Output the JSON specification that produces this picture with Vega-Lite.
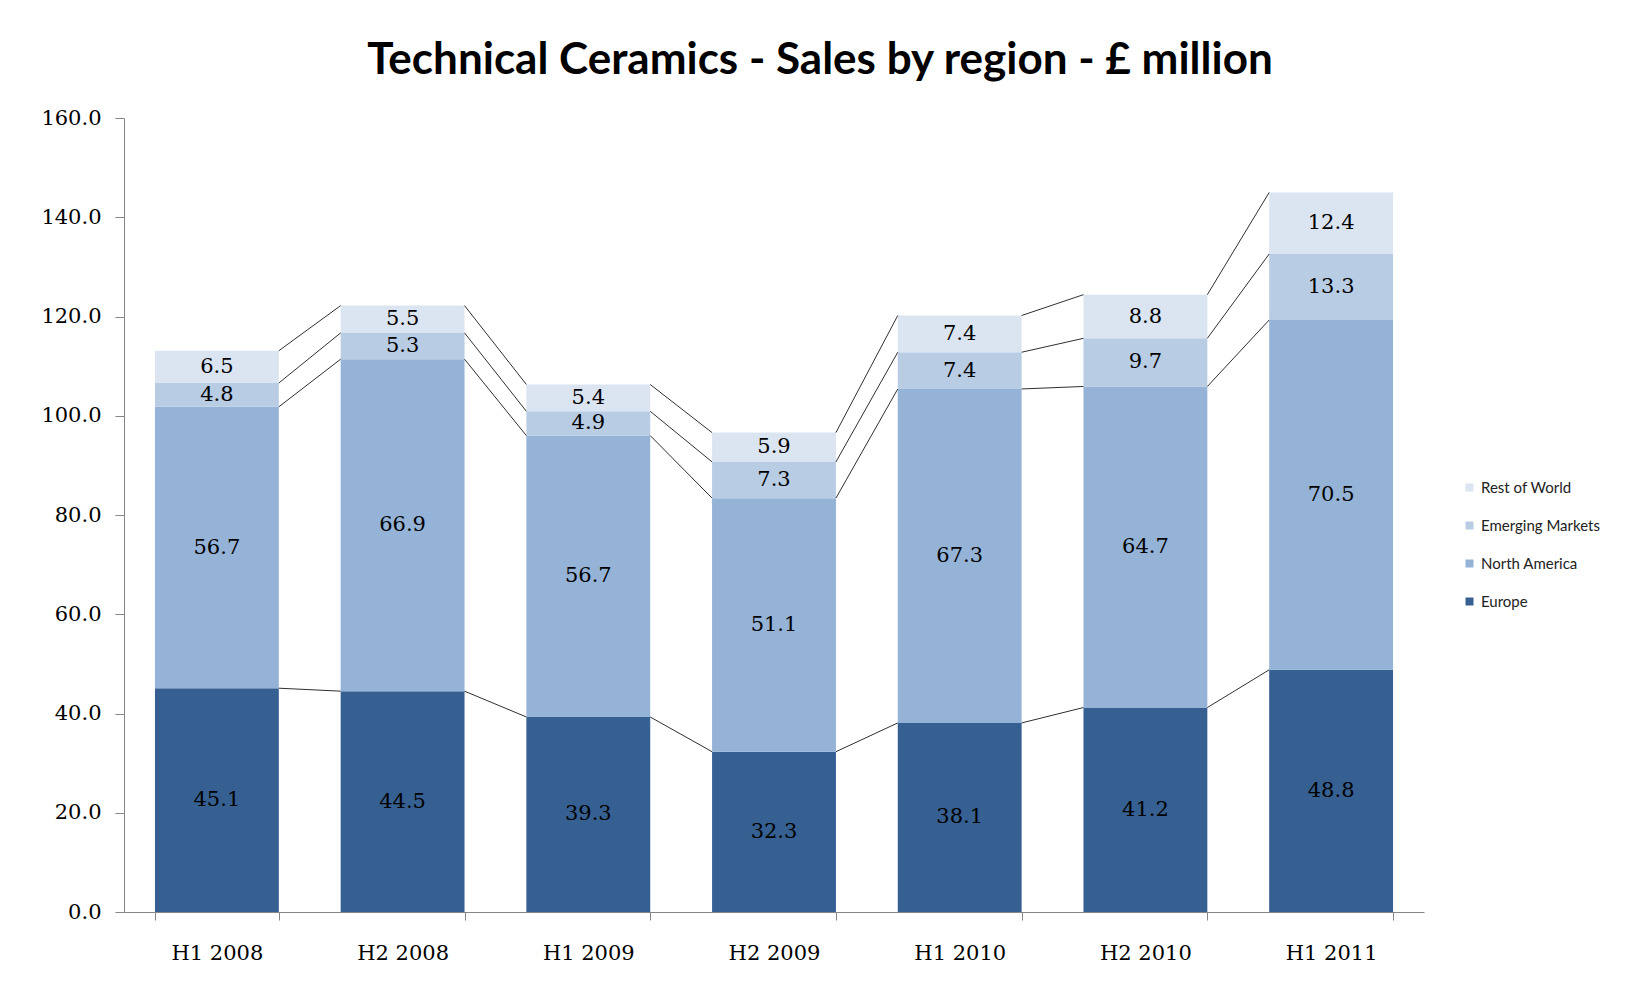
{
  "$schema": "https://vega.github.io/schema/vega-lite/v6.json",
  "autosize": {"type": "none"},
  "width": 1300,
  "height": 794,
  "padding": {"left": 124, "top": 118, "right": 208, "bottom": 83},
  "background": "white",
  "title": {
    "text": "Technical Ceramics - Sales by region - £ million",
    "font": "Lato",
    "fontSize": 44,
    "fontWeight": "bold",
    "color": "black",
    "anchor": "middle",
    "dx": 46,
    "offset": 24
  },
  "config": {
    "view": {"stroke": null},
    "axis": {
      "domainColor": "#868686",
      "tickColor": "#868686",
      "labelFont": "DejaVu Serif",
      "labelFontSize": 21,
      "labelColor": "black",
      "grid": false,
      "title": null
    }
  },
  "data": {
    "values": [
      {"period": "H1 2008", "region": "Europe", "value": 45.1},
      {"period": "H1 2008", "region": "North America", "value": 56.7},
      {"period": "H1 2008", "region": "Emerging Markets", "value": 4.8},
      {"period": "H1 2008", "region": "Rest of World", "value": 6.5},
      {"period": "H2 2008", "region": "Europe", "value": 44.5},
      {"period": "H2 2008", "region": "North America", "value": 66.9},
      {"period": "H2 2008", "region": "Emerging Markets", "value": 5.3},
      {"period": "H2 2008", "region": "Rest of World", "value": 5.5},
      {"period": "H1 2009", "region": "Europe", "value": 39.3},
      {"period": "H1 2009", "region": "North America", "value": 56.7},
      {"period": "H1 2009", "region": "Emerging Markets", "value": 4.9},
      {"period": "H1 2009", "region": "Rest of World", "value": 5.4},
      {"period": "H2 2009", "region": "Europe", "value": 32.3},
      {"period": "H2 2009", "region": "North America", "value": 51.1},
      {"period": "H2 2009", "region": "Emerging Markets", "value": 7.3},
      {"period": "H2 2009", "region": "Rest of World", "value": 5.9},
      {"period": "H1 2010", "region": "Europe", "value": 38.1},
      {"period": "H1 2010", "region": "North America", "value": 67.3},
      {"period": "H1 2010", "region": "Emerging Markets", "value": 7.4},
      {"period": "H1 2010", "region": "Rest of World", "value": 7.4},
      {"period": "H2 2010", "region": "Europe", "value": 41.2},
      {"period": "H2 2010", "region": "North America", "value": 64.7},
      {"period": "H2 2010", "region": "Emerging Markets", "value": 9.7},
      {"period": "H2 2010", "region": "Rest of World", "value": 8.8},
      {"period": "H1 2011", "region": "Europe", "value": 48.8},
      {"period": "H1 2011", "region": "North America", "value": 70.5},
      {"period": "H1 2011", "region": "Emerging Markets", "value": 13.3},
      {"period": "H1 2011", "region": "Rest of World", "value": 12.4}
    ]
  },
  "transform": [
    {"calculate": "indexof(['Europe','North America','Emerging Markets','Rest of World'], datum.region)", "as": "rank"},
    {"calculate": "slice(datum.period, 3) + slice(datum.period, 0, 2)", "as": "key"},
    {"window": [{"op": "sum", "field": "value", "as": "top"}], "groupby": ["period"], "sort": [{"field": "rank", "order": "ascending"}], "frame": [null, 0]},
    {"calculate": "datum.top - datum.value", "as": "bottom"},
    {"calculate": "datum.top - datum.value / 2", "as": "mid"},
    {"window": [{"op": "lead", "field": "top", "as": "nextTop"}, {"op": "lead", "field": "period", "as": "nextPeriod"}], "groupby": ["region"], "sort": [{"field": "key", "order": "ascending"}], "frame": [null, null]}
  ],
  "encoding": {
    "x": {
      "field": "period",
      "type": "nominal",
      "sort": ["H1 2008", "H2 2008", "H1 2009", "H2 2009", "H1 2010", "H2 2010", "H1 2011"],
      "scale": {"paddingInner": 0.333, "paddingOuter": 0.1667},
      "axis": {"labelAngle": 0, "tickBand": "extent", "tickSize": 8, "labelPadding": 22, "domainWidth": 1}
    }
  },
  "layer": [
    {
      "mark": {"type": "bar"},
      "encoding": {
        "y": {
          "field": "bottom",
          "type": "quantitative",
          "scale": {"domain": [0, 160], "nice": false},
          "axis": {"values": [0, 20, 40, 60, 80, 100, 120, 140, 160], "format": ".1f", "tickSize": 9, "labelPadding": 14}
        },
        "y2": {"field": "top"},
        "color": {
          "field": "region",
          "type": "nominal",
          "scale": {
            "domain": ["Rest of World", "Emerging Markets", "North America", "Europe"],
            "range": ["#DBE5F1", "#B8CCE4", "#95B3D7", "#366092"]
          },
          "legend": {
            "title": null,
            "orient": "none",
            "legendX": 1338,
            "legendY": 362,
            "symbolType": "square",
            "symbolSize": 64,
            "symbolStrokeWidth": 0,
            "labelFont": "Lato",
            "labelFontSize": 15,
            "labelColor": "#222222",
            "rowPadding": 22,
            "labelOffset": 4
          }
        }
      }
    },
    {
      "transform": [{"filter": "datum.nextPeriod != null"}],
      "mark": {"type": "rule", "color": "#303030", "strokeWidth": 1},
      "encoding": {
        "x": {"field": "period", "type": "nominal", "bandPosition": 1, "sort": ["H1 2008", "H2 2008", "H1 2009", "H2 2009", "H1 2010", "H2 2010", "H1 2011"]},
        "x2": {"field": "nextPeriod", "bandPosition": 0},
        "y": {"field": "top", "type": "quantitative"},
        "y2": {"field": "nextTop"}
      }
    },
    {
      "mark": {"type": "text", "font": "DejaVu Serif", "fontSize": 21, "color": "#000000", "baseline": "middle", "align": "center"},
      "encoding": {
        "y": {"field": "mid", "type": "quantitative"},
        "text": {"field": "value", "type": "quantitative", "format": ".1f"}
      }
    }
  ]
}
